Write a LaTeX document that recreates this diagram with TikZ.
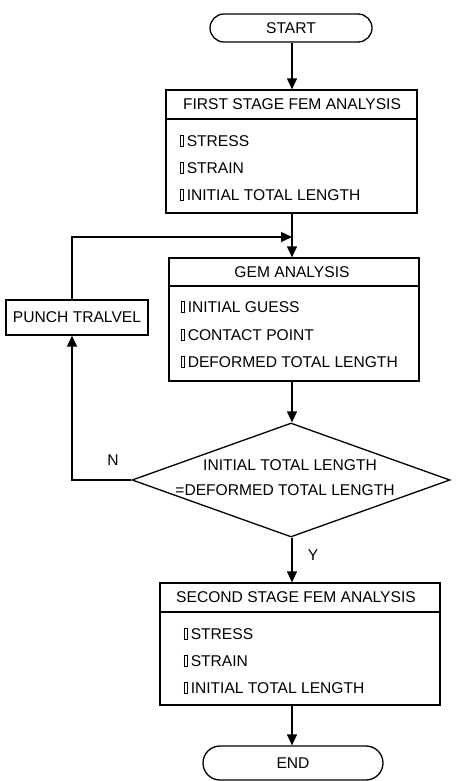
\documentclass[tikz,border=0pt]{standalone}
\usepackage{fontspec}
\setmainfont{Liberation Sans}
\usetikzlibrary{shapes.geometric,shapes.misc,arrows.meta}
\newcommand\bul{{\setlength{\fboxrule}{0.8pt}\setlength{\fboxsep}{0pt}\fbox{\hbox to 3pt{\vrule width 0pt height 10.5pt\hfil}}}\hspace{2.5pt}}
\begin{document}
\begin{tikzpicture}[x=1pt,y=-1pt,line width=1.3pt,
  font=\fontsize{15.6}{18}\selectfont,
  box/.style={draw,rectangle,inner sep=0pt},
  term/.style={draw,rounded rectangle,inner sep=0pt},
  hdr/.style={inner sep=0pt},
  lbl/.style={inner sep=0pt,anchor=west},
  arr/.style={-{Triangle[length=11pt,width=10pt]}}]
\useasboundingbox (0,0) rectangle (455,781);
\coordinate (ax) at (292,0);
\coordinate (lx) at (72,0);
\coordinate (loopj) at (292,237);
% START
\node[term,minimum width=162pt,minimum height=28pt] (start) at (291,28) {START};
% First stage box
\node[box,minimum width=251pt,minimum height=123pt] (b1) at (291.5,151.5) {};
\draw (b1.west |- 0,119) -- (b1.east |- 0,119);
\node[hdr] (b1h) at (292,104.5) {FIRST STAGE FEM ANALYSIS};
\node[lbl] (b1a) at (179,141) {\bul STRESS};
\node[lbl] (b1b) at (179,168) {\bul STRAIN};
\node[lbl] (b1c) at (179,195) {\bul INITIAL TOTAL LENGTH};
% GEM box
\node[box,minimum width=250pt,minimum height=123pt] (gem) at (294,319.5) {};
\draw (gem.west |- 0,286) -- (gem.east |- 0,286);
\node[hdr] (gemh) at (292,272) {GEM ANALYSIS};
\node[lbl] (gema) at (180,307) {\bul INITIAL GUESS};
\node[lbl] (gemb) at (180,335) {\bul CONTACT POINT};
\node[lbl] (gemc) at (180,362) {\bul DEFORMED TOTAL LENGTH};
% Punch travel
\node[box,minimum width=142pt,minimum height=35pt] (punch) at (77,317.5) {PUNCH TRALVEL};
% Decision
\node[draw,diamond,inner sep=0pt,minimum width=318pt,minimum height=114pt] (dia) at (291,480) {};
\node[hdr] (diat) at (290,465) {INITIAL TOTAL LENGTH};
\node[hdr] (diab) at (285,490) {=DEFORMED TOTAL LENGTH};
% Second stage box
\node[box,minimum width=280pt,minimum height=122pt] (b3) at (300,644) {};
\draw (b3.west |- 0,612) -- (b3.east |- 0,612);
\node[hdr] (b3h) at (296,597.5) {SECOND STAGE FEM ANALYSIS};
\node[lbl] (b3a) at (183,634) {\bul STRESS};
\node[lbl] (b3b) at (183,661) {\bul STRAIN};
\node[lbl] (b3c) at (183,688) {\bul INITIAL TOTAL LENGTH};
% END
\node[term,minimum width=180pt,minimum height=34pt] (endn) at (293,763) {END};
% labels
\node[hdr] (nlab) at (113,460) {N};
\node[hdr] (ylab) at (313,555) {Y};
% connectors
\draw[arr] (start.south -| ax) -- (b1.north -| ax);
\draw[arr] (b1.south -| ax) -- (gem.north -| ax);
\draw[arr] (gem.south -| ax) -- (dia.north -| ax);
\draw[arr] (dia.south -| ax) -- (b3.north -| ax);
\draw[arr] (b3.south -| ax) -- (endn.north -| ax);
\draw[arr] (punch.north -| lx) |- (loopj);
\draw[arr] (dia.west) -| (punch.south -| lx);
\end{tikzpicture}
\end{document}
